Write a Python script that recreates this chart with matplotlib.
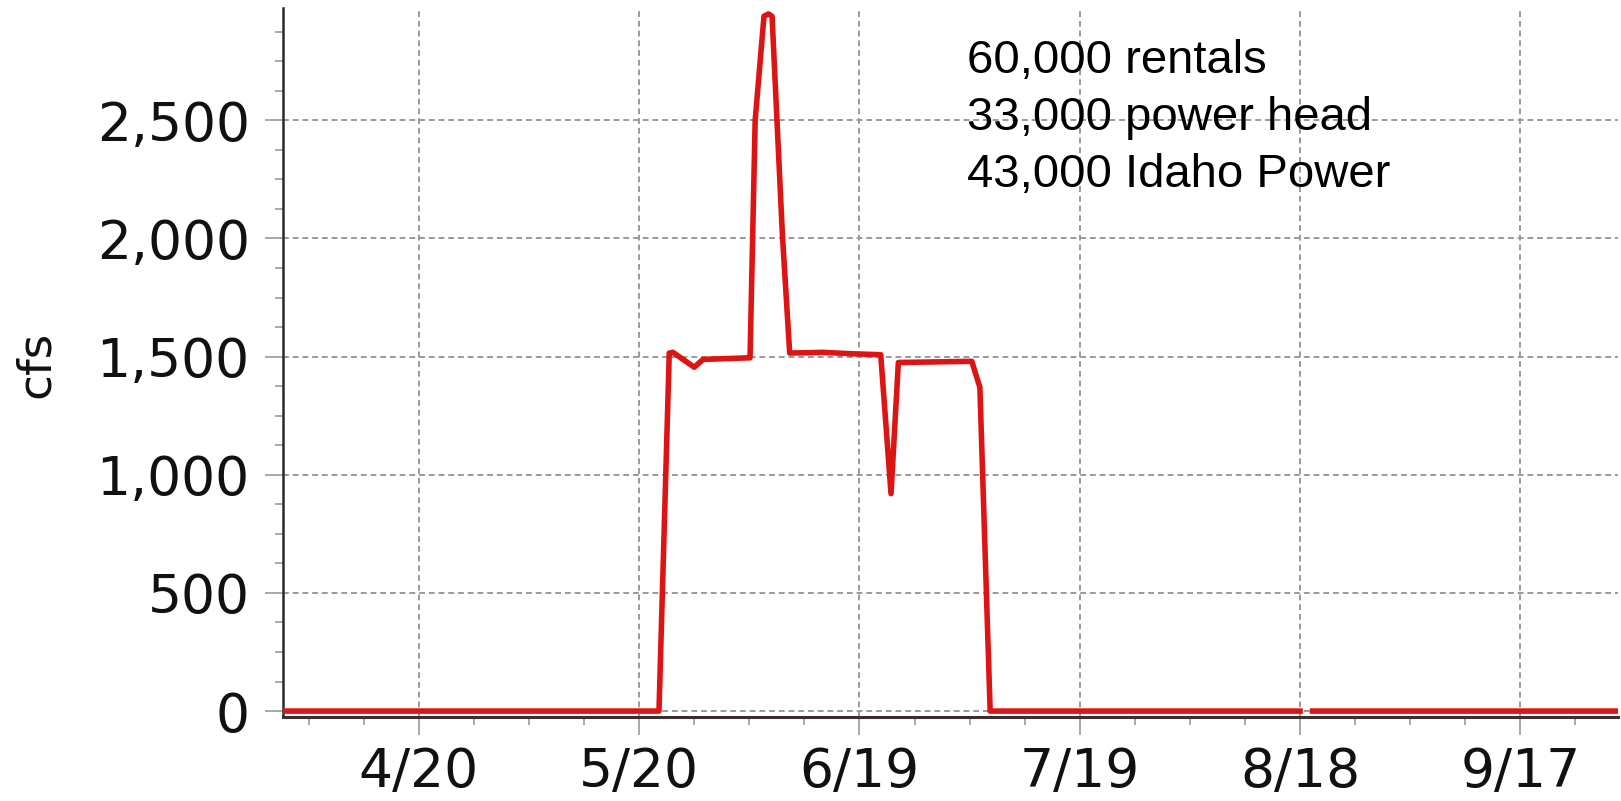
import numpy as np
import matplotlib
matplotlib.use("Agg")
import matplotlib.pyplot as plt
from matplotlib.ticker import FixedLocator, FuncFormatter

# flow release, days counted from March 31 (day 1 = Apr 1)
days = [0.5, 51.7, 53.1, 53.6, 56.5, 57.7, 64.1, 64.8, 66.0, 66.6, 67.1,
        68.5, 69.5, 74.0, 78.0, 81.9, 83.3, 84.3, 94.3, 95.4, 96.8,
        139.0, 139.8, 140.7, 182.3]
cfs = [0, 0, 1515, 1518, 1455, 1488, 1495, 2500, 2940, 2950, 2940,
       2020, 1515, 1518, 1512, 1508, 920, 1475, 1480, 1370, 0,
       0, np.nan, 0, 0]

tick_days = [19, 49, 79, 109, 139, 169]
tick_labels = ['4/20', '5/20', '6/19', '7/19', '8/18', '9/17']
y_ticks = [0, 500, 1000, 1500, 2000, 2500]

notes = ['60,000 rentals', '33,000 power head', '43,000 Idaho Power']

fig = plt.figure(figsize=(16.21, 8.01), dpi=100)
ax = fig.add_axes([283 / 1621, 84 / 801, 1335 / 1621, 709 / 801])

ax.plot(days, cfs, color='#dc1414', lw=4.0, solid_joinstyle='round', zorder=3)

ax.set_xlim(0.5, 182.3)
ax.set_ylim(-25, 2975)

ax.set_xticks(tick_days)
ax.set_xticklabels(tick_labels)
ax.xaxis.set_minor_locator(FixedLocator(np.arange(19 - 7.5 * 2, 183, 7.5)))
ax.set_yticks(y_ticks)
ax.yaxis.set_major_formatter(FuncFormatter(lambda v, p: '{:,.0f}'.format(v)))
ax.yaxis.set_minor_locator(FixedLocator(np.arange(125, 2975, 125)))

ax.grid(True, which='major', color='#9a9a9a', lw=1.4, ls=(0, (3, 2)))
ax.set_axisbelow(True)

ax.tick_params(axis='both', which='major', length=13, width=1.2, color='#9a9a9a',
               labelsize=38.5, labelcolor='#111111')
ax.tick_params(axis='x', which='major', pad=8)
ax.tick_params(axis='y', which='major', pad=11)
ax.tick_params(axis='both', which='minor', length=6, width=1.2, color='#9a9a9a')

for s in ['top', 'right']:
    ax.spines[s].set_visible(False)
ax.spines['left'].set_color('#2a2a2a')
ax.spines['left'].set_linewidth(1.8)
ax.spines['bottom'].set_color('#3a2e2e')
ax.spines['bottom'].set_linewidth(2.2)

ax.set_ylabel('cfs', fontsize=34, color='#111111')
ax.yaxis.set_label_coords(-0.168, 0.497)

for i, line in enumerate(notes):
    fig.text(967 / 1621, 1 - (73 + 57 * i) / 801, line, fontsize=34,
             family='Liberation Sans', va='baseline', ha='left', color='black')

fig.savefig('out.png', dpi=100)
